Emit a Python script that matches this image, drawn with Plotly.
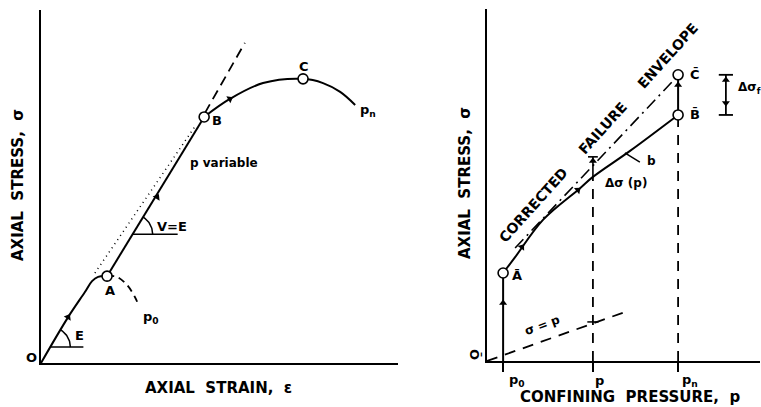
import numpy as np
import plotly.graph_objects as go

# ---------------- Left panel: axial stress vs axial strain (arbitrary units) ----------------
eps_OA = [0.0, 0.76, 1.23, 1.43, 1.60, 1.85]
sig_OA = [0.0, 1.30, 2.01, 2.32, 2.44, 2.46]
eps_p0 = [1.85, 2.13, 2.41, 2.63, 2.72]
sig_p0 = [2.46, 2.44, 2.21, 1.87, 1.67]
eps_AB = [1.85, 4.57]
sig_AB = [2.46, 6.97]
eps_BC = [4.57, 5.29, 6.22, 7.34, 7.90, 8.38, 8.80]
sig_BC = [6.97, 7.48, 7.93, 8.05, 7.93, 7.68, 7.31]
eps_tan = [4.59, 5.71]
sig_tan = [7.08, 9.07]
eps_dot = [1.51, 4.34]
sig_dot = [2.55, 6.74]
pt_labels_left = ["A", "B", "C"]
eps_pts = [1.85, 4.57, 7.34]
sig_pts = [2.46, 6.97, 8.05]
eps_arrow = [0.76, 3.25, 5.29]
sig_arrow = [1.30, 4.70, 7.48]

# ---------------- Right panel: axial stress vs confining pressure ----------------
p_ticks = [0.59, 3.88, 7.00]
p_tick_text = ["p<sub>0</sub>", "p", "p<sub>n</sub>"]
p_b = [0.59, 1.03, 2.05, 3.41, 3.88, 5.24, 7.00]
sig_b = [2.50, 2.95, 4.01, 4.91, 5.23, 5.97, 6.99]
p_env = [1.03, 6.78]
sig_env = [3.21, 7.93]
sig_Cbar = 8.13
sig_env_at_p = 5.80
p_sp = [0.0, 5.05]
sig_sp = [0.0, 1.39]
p_dsf = 8.75
p_arrow = [0.59, 1.28, 3.33, 7.00, 3.88, 8.75, 8.75]
sig_arrow_r = [1.65, 3.24, 4.86, 7.84, 5.68, 7.98, 7.33]

W, H = 761, 407
dom_x1 = [41 / W, 398 / W]
dom_y1 = [(H - 363) / H, (H - 10) / H]
dom_x2 = [487 / W, 760 / W]
dom_y2 = [(H - 361) / H, (H - 9) / H]
RANGE = [0, 10]

fig = go.Figure()


def line(x, y, xa, ya, dash=None, width=2, shape="linear"):
    fig.add_trace(go.Scatter(x=x, y=y, mode="lines", xaxis=xa, yaxis=ya,
                             line=dict(color="black", width=width, dash=dash, shape=shape),
                             hoverinfo="skip", showlegend=False, cliponaxis=False))


def px_scale(dx, dy):
    return W * (dx[1] - dx[0]) / 10.0, H * (dy[1] - dy[0]) / 10.0


def angle_mark(vx, vy, slope, length, xa, ya, dx, dy, r=20):
    sx, sy = px_scale(dx, dy)
    ang = np.arctan(slope * sy / sx)
    t = np.linspace(0, ang, 30)
    line(list(vx + r * np.cos(t) / sx), list(vy + r * np.sin(t) / sy), xa, ya, width=1.5)
    line([vx, vx + length / sx], [vy, vy], xa, ya, width=1.5)


# ---- left panel curves ----
line(eps_OA, sig_OA, "x", "y", shape="spline")
line(eps_p0, sig_p0, "x", "y", dash="7px,5px", width=1.8, shape="spline")
line(eps_AB, sig_AB, "x", "y")
line(eps_BC, sig_BC, "x", "y", shape="spline")
line(eps_tan, sig_tan, "x", "y", dash="10px,6px", width=1.8)
line(eps_dot, sig_dot, "x", "y", dash="1px,4px", width=1.5)

# angle marks E and V=E
sE = sig_OA[1] / eps_OA[1]
vyE = 0.45
angle_mark(vyE / sE, vyE, sE, 33, "x", "y", dom_x1, dom_y1)
sAB = (sig_AB[1] - sig_AB[0]) / (eps_AB[1] - eps_AB[0])
vyV = 3.65
angle_mark(eps_AB[0] + (vyV - sig_AB[0]) / sAB, vyV, sAB, 45, "x", "y", dom_x1, dom_y1)

fig.add_trace(go.Scatter(x=eps_arrow, y=sig_arrow, mode="markers", xaxis="x", yaxis="y",
                         marker=dict(symbol="triangle-up", size=7, color="black", angle=[30, 31, 60]),
                         hoverinfo="skip", showlegend=False))
fig.add_trace(go.Scatter(x=eps_pts, y=sig_pts, mode="markers", xaxis="x", yaxis="y",
                         marker=dict(symbol="circle", size=10, color="white",
                                     line=dict(color="black", width=1.6)),
                         hoverinfo="skip", showlegend=False, cliponaxis=False))

# ---- right panel curves ----
line([p_b[0], p_b[0]], [0, sig_b[0]], "x2", "y2")
line(p_b, sig_b, "x2", "y2", shape="spline")
line([p_b[-1], p_b[-1]], [sig_b[-1], sig_Cbar], "x2", "y2")
line([p_ticks[1], p_ticks[1]], [0, sig_b[4]], "x2", "y2", dash="10px,8px", width=1.8)
line([p_ticks[2], p_ticks[2]], [0, sig_b[-1]], "x2", "y2", dash="10px,8px", width=1.8)
line(p_env, sig_env, "x2", "y2", dash="12px,5px,2px,5px", width=1.6)
line(p_sp, sig_sp, "x2", "y2", dash="11px,8px", width=1.8)
# delta sigma (p) bar
line([p_ticks[1], p_ticks[1]], [sig_b[4], sig_env_at_p], "x2", "y2", width=1.6)
line([p_ticks[1] - 0.18, p_ticks[1] + 0.18], [sig_env_at_p, sig_env_at_p], "x2", "y2", width=1.6)
# delta sigma f bar
line([p_dsf, p_dsf], [sig_b[-1], sig_Cbar], "x2", "y2", width=1.8)
line([p_dsf - 0.26, p_dsf + 0.26], [sig_Cbar, sig_Cbar], "x2", "y2", width=1.8)
line([p_dsf - 0.26, p_dsf + 0.26], [sig_b[-1], sig_b[-1]], "x2", "y2", width=1.8)
# b leader
line([5.05, 5.60], [5.91, 5.65], "x2", "y2", width=1.5)

fig.add_trace(go.Scatter(x=p_arrow, y=sig_arrow_r, mode="markers", xaxis="x2", yaxis="y2",
                         marker=dict(symbol="triangle-up", size=7, color="black",
                                     angle=[0, 37, 49, 0, 0, 0, 180]),
                         hoverinfo="skip", showlegend=False))
fig.add_trace(go.Scatter(x=[p_ticks[1]], y=[1.11], mode="markers", xaxis="x2", yaxis="y2",
                         marker=dict(symbol="line-ew", size=8, line=dict(color="black", width=1.5)),
                         hoverinfo="skip", showlegend=False))
fig.add_trace(go.Scatter(x=[p_b[0], p_b[-1], p_b[-1]], y=[sig_b[0], sig_b[-1], sig_Cbar],
                         mode="markers", xaxis="x2", yaxis="y2",
                         marker=dict(symbol="circle", size=10, color="white",
                                     line=dict(color="black", width=1.6)),
                         hoverinfo="skip", showlegend=False, cliponaxis=False))

FONT = dict(family="DejaVu Sans", color="black", weight="bold")


def ann(text, x, y, xref, yref, size=13, angle=0, xs=0, ys=0, xanchor="center"):
    fig.add_annotation(text=text, x=x, y=y, xref=xref, yref=yref, showarrow=False,
                       font=dict(size=size, **FONT), textangle=angle, xshift=xs, yshift=ys,
                       xanchor=xanchor, yanchor="middle")


# left labels
ann("O", 0, 0, "x", "y", xs=-10, ys=6)
ann(pt_labels_left[0], eps_pts[0], sig_pts[0], "x", "y", xs=3, ys=-14)
ann(pt_labels_left[1], eps_pts[1], sig_pts[1], "x", "y", xs=13, ys=-4)
ann(pt_labels_left[2], eps_pts[2], sig_pts[2], "x", "y", xs=1, ys=12)
ann("p<sub>n</sub>", eps_BC[-1], sig_BC[-1], "x", "y", xs=13, ys=-6)
ann("p<sub>0</sub>", 3.08, 1.30, "x", "y")
ann("E", 1.09, 0.79, "x", "y")
ann("V=E", 3.67, 3.88, "x", "y")
ann("p variable", 5.13, 5.67, "x", "y", size=12)
ann("AXIAL  STRESS,  σ", 18 / W, (H - 185) / H, "paper", "paper", size=15, angle=-90)
ann("AXIAL  STRAIN,  ε", 218 / W, (H - 388) / H, "paper", "paper", size=15)

# right labels
ann("Ā", p_b[0], sig_b[0], "x2", "y2", xs=14, ys=-2)
ann("B\u0304", p_b[-1], sig_b[-1], "x2", "y2", xs=17)
ann("C\u0304", p_b[-1], sig_Cbar, "x2", "y2", xs=17)
ann("Δσ (p)", 5.09, 5.06, "x2", "y2", size=12)
ann("b", 6.04, 5.68, "x2", "y2", size=12)
ann("σ = p", 2.05, 1.02, "x2", "y2", size=12, angle=-20)
ann("CORRECTED     FAILURE     ENVELOPE", 4.07, 6.48, "x2", "y2", size=14, angle=-48)
ann("Δσ<sub>f</sub>", 9.12, 7.76, "x2", "y2", size=12, xanchor="left")
ann("Ō", 0, 0, "x2", "y2", size=13, angle=90, xs=-12, ys=7)
for pv, tt, xs in zip(p_ticks, p_tick_text, [14, 7, 12]):
    ann(tt, pv, 0, "x2", "y2", size=13, xs=xs, ys=-19)
ann("AXIAL  STRESS,  σ", 465 / W, (H - 183) / H, "paper", "paper", size=15, angle=-90)
ann("CONFINING  PRESSURE,  p", 630 / W, (H - 397) / H, "paper", "paper", size=15)

ax_common = dict(range=RANGE, showgrid=False, zeroline=False, showticklabels=False,
                 showline=True, linecolor="black", linewidth=2, fixedrange=True)

fig.update_layout(
    width=W, height=H, margin=dict(l=0, r=0, t=0, b=0),
    paper_bgcolor="white", plot_bgcolor="white", showlegend=False,
    xaxis=dict(domain=dom_x1, anchor="y", ticks="", **ax_common),
    yaxis=dict(domain=dom_y1, anchor="x", ticks="", **ax_common),
    xaxis2=dict(domain=dom_x2, anchor="y2", ticks="outside", tickvals=p_ticks,
                ticklen=9, tickwidth=1.5, tickcolor="black", **ax_common),
    yaxis2=dict(domain=dom_y2, anchor="x2", ticks="", **ax_common),
)

fig.write_html("out.html", config={"displayModeBar": False},
               post_script="document.body.style.margin='0';")
